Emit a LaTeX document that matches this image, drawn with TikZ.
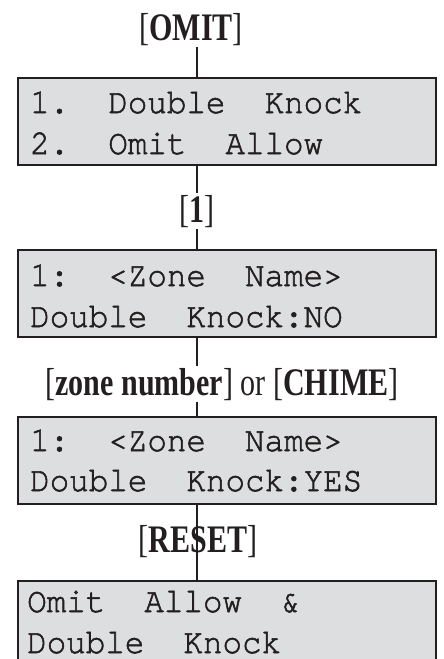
\documentclass[tikz,border=0pt]{standalone}
\usepackage{fontspec}
\newfontfamily\lcdfont[FakeStretch=0.93,FakeBold=1.6]{TeX Gyre Cursor}
\newfontfamily\lblfont[FakeStretch=0.77]{Liberation Serif}
\definecolor{ink}{RGB}{35,31,32}
\definecolor{lcd}{RGB}{221,222,223}
\begin{document}
\begin{tikzpicture}[x=1pt,y=-1pt,
  lcdbox/.style={draw=ink,fill=lcd,line width=2pt,rectangle,inner sep=0pt,
    minimum width=418pt,minimum height=87pt,anchor=north west},
  lcdline/.style={anchor=base west,inner sep=0pt,text=ink,
    font=\lcdfont\fontsize{35}{35}\selectfont},
  keylbl/.style={anchor=base,inner sep=0pt,outer sep=2pt,text=ink,
    font=\lblfont\fontsize{39}{39}\selectfont},
  conn/.style={draw=ink,line width=2pt}]
\useasboundingbox (0,0) rectangle (444,659);
\clip (0,0) rectangle (444,659);
\coordinate (spine) at (197,0);
% boxes
\node[lcdbox] (b1) at (17,77) {};
\node[lcdbox] (b2) at (17,249) {};
\node[lcdbox] (b3) at (17,416) {};
\node[lcdbox,minimum height=120pt] (b4) at (17,580) {};
% texts
\node[lcdline] (t11) at (30,113) {1.~~Double~~Knock};
\node[lcdline] (t12) at (30,154) {2.~~Omit~~Allow};
\node[lcdline] (t21) at (30,286) {1:~~<Zone~~Name>};
\node[lcdline] (t22) at (30,327) {Double~~Knock:NO};
\node[lcdline] (t31) at (30,451) {1:~~<Zone~~Name>};
\node[lcdline] (t32) at (30,491) {Double~~Knock:YES};
\node[lcdline] (t41) at (27,612) {Omit~~Allow~~\&};
\node[lcdline] (t42) at (27,653) {Double~~Knock};
% labels
\node[keylbl] (omit) at (191,40) {[\textbf{OMIT}]};
\node[keylbl] (one) at (197,222) {[\textbf{1}]};
\node[keylbl] (zone) at (222,395) {[\textbf{zone number}] or [\textbf{CHIME}]};
% connectors
\draw[conn] (omit.south -| spine) -- (b1.north -| spine);
\draw[conn] (b1.south -| spine) -- (one.north -| spine);
\draw[conn] (one.south -| spine) -- (b2.north -| spine);
\draw[conn] (b2.south -| spine) -- (zone.north -| spine);
\draw[conn] (zone.south -| spine) -- (b3.north -| spine);
\draw[conn] (b3.south -| spine) -- (b4.north -| spine);
\node[keylbl] (reset) at (198,552) {[\textbf{RESET}]};
\end{tikzpicture}
\end{document}
